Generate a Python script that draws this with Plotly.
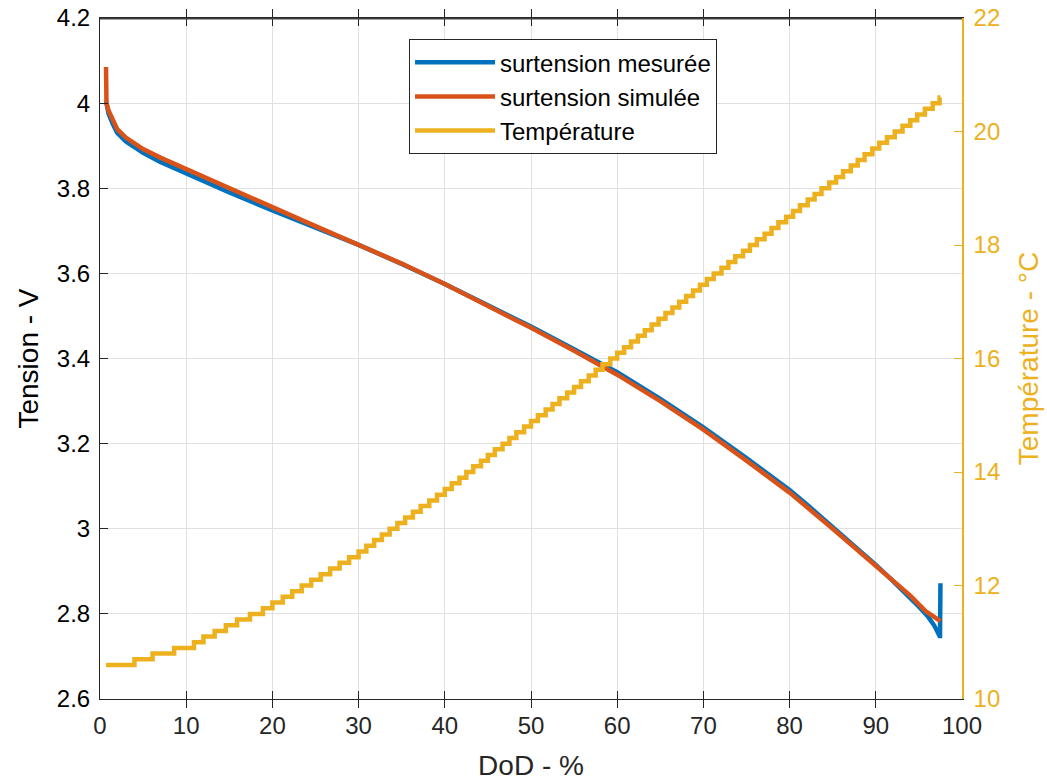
import plotly.graph_objects as go

# ---- data ----
dod_mes = [0.7, 1.0, 1.5, 2, 3, 4, 5, 7, 10, 15, 20, 25, 30, 35, 40, 45, 50, 55, 60, 65,
           70, 75, 80, 82, 84, 86, 88, 90, 92, 94, 95, 96, 96.8, 97.4, 97.45, 97.5]
v_mes = [4.005, 3.975, 3.95, 3.93, 3.91, 3.895, 3.883, 3.862, 3.835, 3.79, 3.748, 3.708,
         3.667, 3.622, 3.575, 3.525, 3.475, 3.422, 3.368, 3.305, 3.238, 3.166, 3.091,
         3.057, 3.022, 2.987, 2.951, 2.915, 2.877, 2.838, 2.817, 2.795, 2.772, 2.748,
         2.748, 2.872]

dod_sim = [0.7, 0.75, 1.0, 1.5, 2, 3, 4, 5, 7, 10, 15, 20, 25, 30, 35, 40, 45, 50, 55, 60,
           65, 70, 75, 80, 85, 88, 90, 92, 94, 95.8, 97.5]
v_sim = [4.085, 4.0, 3.982, 3.957, 3.939, 3.919, 3.905, 3.892, 3.872, 3.845, 3.799, 3.755,
         3.711, 3.667, 3.623, 3.575, 3.524, 3.472, 3.418, 3.362, 3.3, 3.233, 3.16, 3.085,
         3.0, 2.947, 2.912, 2.877, 2.843, 2.806, 2.783]

# temperature: start of each plateau (DoD %) and its value (°C)
temp_dod = [0.7, 4.0, 6.1, 8.6, 10.9, 12.0, 13.3, 14.6, 15.9, 17.4, 18.9, 20.0,
            21.2, 22.3, 23.4, 24.5, 25.6, 26.7, 27.8, 28.9, 30.0,
            30.9, 31.8, 32.7, 33.6, 34.5, 35.4, 36.3, 37.2, 38.2, 39.1, 40.0,
            40.8, 41.7, 42.5, 43.3, 44.2, 45.0, 45.8, 46.7, 47.5, 48.3, 49.2, 50.0,
            50.8, 51.7, 52.5, 53.3, 54.2, 55.0, 55.8, 56.7, 57.5, 58.3, 59.2, 60.0,
            60.8, 61.6, 62.4, 63.2, 64.0, 64.8, 65.6, 66.4, 67.2, 68.0, 68.8, 69.6,
            70.4, 71.2, 72.1, 72.9, 73.7, 74.6, 75.4, 76.2, 77.1, 77.9, 78.7, 79.6,
            80.4, 81.2, 82.1, 82.9, 83.7, 84.6, 85.4, 86.2, 87.1, 87.9, 88.7, 89.6,
            90.4, 91.3, 92.2, 93.1, 94.0, 94.8, 95.7, 96.6, 97.4, 97.5]
temp_val = [10.6, 10.7, 10.8, 10.9, 11.0, 11.1, 11.2, 11.3, 11.4, 11.5, 11.6, 11.7,
            11.8, 11.9, 12.0, 12.1, 12.2, 12.3, 12.4, 12.5, 12.6,
            12.7, 12.8, 12.9, 13.0, 13.1, 13.2, 13.3, 13.4, 13.5, 13.6, 13.7,
            13.8, 13.9, 14.0, 14.1, 14.2, 14.3, 14.4, 14.5, 14.6, 14.7, 14.8, 14.9,
            15.0, 15.1, 15.2, 15.3, 15.4, 15.5, 15.6, 15.7, 15.8, 15.9, 16.0, 16.1,
            16.2, 16.3, 16.4, 16.5, 16.6, 16.7, 16.8, 16.9, 17.0, 17.1, 17.2, 17.3,
            17.4, 17.5, 17.6, 17.7, 17.8, 17.9, 18.0, 18.1, 18.2, 18.3, 18.4, 18.5,
            18.6, 18.7, 18.8, 18.9, 19.0, 19.1, 19.2, 19.3, 19.4, 19.5, 19.6, 19.7,
            19.8, 19.9, 20.0, 20.1, 20.2, 20.3, 20.4, 20.5, 20.6, 20.6]

x_ticks = [0, 10, 20, 30, 40, 50, 60, 70, 80, 90, 100]
v_ticks = [2.6, 2.8, 3.0, 3.2, 3.4, 3.6, 3.8, 4.0, 4.2]
v_tick_labels = ["2.6", "2.8", "3", "3.2", "3.4", "3.6", "3.8", "4", "4.2"]
t_ticks = [10, 12, 14, 16, 18, 20, 22]

BLUE = "#0072BD"
RED = "#D95319"
YEL = "#EDB120"
FONT = "Liberation Sans, Arial, sans-serif"

fig = go.Figure()
fig.add_trace(go.Scatter(x=dod_mes, y=v_mes, mode="lines", name="surtension mesurée",
                         line=dict(color=BLUE, width=4.5)))
fig.add_trace(go.Scatter(x=dod_sim, y=v_sim, mode="lines", name="surtension simulée",
                         line=dict(color=RED, width=4.5)))
fig.add_trace(go.Scatter(x=temp_dod, y=temp_val, mode="lines", name="Température",
                         line=dict(color=YEL, width=4.5, shape="hv"), yaxis="y2"))

fig.update_layout(
    width=1047, height=783,
    margin=dict(l=100, r=85, t=18, b=84),
    paper_bgcolor="white", plot_bgcolor="white",
    font=dict(family=FONT, size=24, color="#262626"),
    showlegend=True,
    legend=dict(x=0.3585, y=0.969, xanchor="left", yanchor="top",
                bordercolor="#262626", borderwidth=1, bgcolor="white",
                font=dict(size=24, color="#000000"), tracegroupgap=0,
                itemwidth=80),
    xaxis=dict(range=[0, 100], tickvals=x_ticks, showgrid=True, gridcolor="#e0e0e0",
               showline=True, linecolor="#262626", linewidth=1, mirror="allticks",
               ticks="inside", ticklen=8, tickcolor="#262626", zeroline=False,
               automargin=False, ticklabeloverflow="allow", ticklabelstandoff=5,
               tickfont=dict(size=24, color="#262626"),
               title=dict(text="DoD - %", font=dict(size=28, color="#262626"), standoff=17)),
    yaxis=dict(range=[2.6, 4.2], tickvals=v_ticks, ticktext=v_tick_labels, showgrid=True,
               gridcolor="#e0e0e0", showline=True, linecolor="#262626", linewidth=1,
               ticks="inside", ticklen=8, tickcolor="#262626", zeroline=False,
               automargin=False, ticklabeloverflow="allow", ticklabelstandoff=4,
               tickfont=dict(size=24, color="#000000"),
               title=dict(text="Tension - V", font=dict(size=28, color="#000000"), standoff=10)),
    yaxis2=dict(range=[10, 22], tickvals=t_ticks, overlaying="y", side="right",
                showgrid=False, showline=True, linecolor=YEL, linewidth=1.5,
                ticks="inside", ticklen=8, tickcolor=YEL, zeroline=False,
                automargin=False, ticklabeloverflow="allow", ticklabelstandoff=5,
                tickfont=dict(size=24, color=YEL),
                title=dict(text="Température - °C", font=dict(size=28, color=YEL), standoff=19)),
    shapes=[dict(type="line", xref="paper", yref="paper", x0=0, x1=1, y0=0.999, y1=0.999,
                 line=dict(color="#404040", width=1.5), layer="above")],
)

fig.write_html("out.html", config={"displayModeBar": False},
               post_script="document.body.style.margin='0';document.body.style.overflow='hidden';")
